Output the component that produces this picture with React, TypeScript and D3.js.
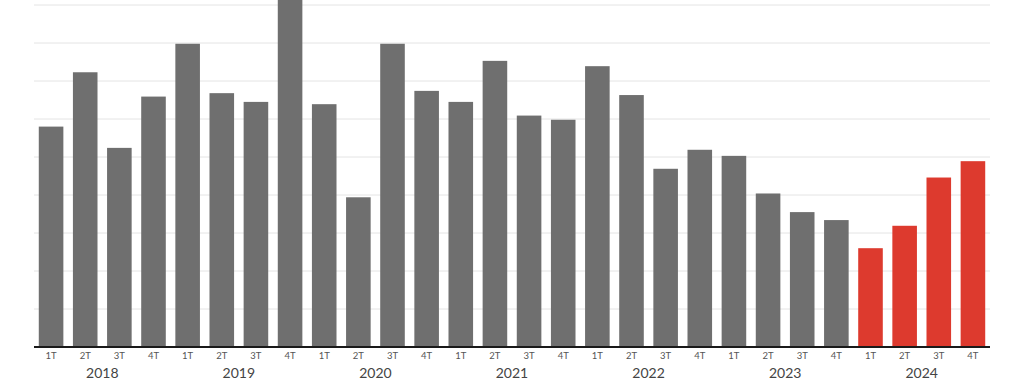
import React from "react";
import * as d3 from "d3";

const years = ["2018", "2019", "2020", "2021", "2022", "2023", "2024"];
const quarters = ["1T", "2T", "3T", "4T"];
const values2018 = [58.0, 72.3, 52.4, 65.9];
const values2019 = [79.8, 66.8, 64.5, 93.0];
const values2020 = [63.9, 39.4, 79.8, 67.4];
const values2021 = [64.5, 75.3, 60.9, 59.8];
const values2022 = [73.9, 66.3, 46.9, 51.9];
const values2023 = [50.3, 40.4, 35.5, 33.4];
const values2024 = [26.0, 31.9, 44.6, 48.9];
const yTicks = [10, 20, 30, 40, 50, 60, 70, 80, 90];
const highlightYear = "2024";

const allValues = [values2018, values2019, values2020, values2021, values2022, values2023, values2024];

type Row = { key: string; year: string; q: string; value: number };
const rows: Row[] = [];
years.forEach((y, i) => {
  quarters.forEach((q, j) => {
    rows.push({ key: `${y}-${q}`, year: y, q, value: allValues[i][j] });
  });
});

const W = 1024;
const H = 384;
const left = 34;
const right = 990;
const baseY = 347;
const topY = 5;

export default function App() {
  const x = d3
    .scaleBand<string>()
    .domain(rows.map((r) => r.key))
    .range([left, right])
    .paddingInner(0.28)
    .paddingOuter(0.14);
  const y = d3.scaleLinear().domain([0, 90]).range([baseY, topY]);

  return (
    <svg
      width={W}
      height={H}
      style={{ position: "absolute", left: 0, top: 0, display: "block", background: "#fff" }}
    >
      <g>
        {yTicks.map((t) => (
          <line
            key={t}
            x1={left}
            x2={right}
            y1={y(t)}
            y2={y(t)}
            stroke="#e4e4e4"
            strokeWidth={1}
          />
        ))}
      </g>
      <g>
        {rows.map((r) => (
          <rect
            key={r.key}
            x={x(r.key)}
            y={y(r.value)}
            width={x.bandwidth()}
            height={baseY - y(r.value)}
            fill={r.year === highlightYear ? "#dd3a2e" : "#6f6f6f"}
          />
        ))}
      </g>
      <line x1={left} x2={right} y1={baseY} y2={baseY} stroke="#1a1a1a" strokeWidth={2.2} />
      <g fontFamily="Lato, 'Open Sans', sans-serif">
        {rows.map((r) => (
          <text
            key={r.key}
            x={(x(r.key) as number) + x.bandwidth() / 2}
            y={359}
            textAnchor="middle"
            fontSize={9.5}
            fill="#555"
          >
            {r.q}
          </text>
        ))}
        {years.map((yr) => {
          const a = x(`${yr}-2T`) as number;
          const b = x(`${yr}-3T`) as number;
          const cx = (a + b) / 2 + x.bandwidth() / 2;
          return (
            <text key={yr} x={cx} y={378} textAnchor="middle" fontSize={14} fill="#444">
              {yr}
            </text>
          );
        })}
      </g>
    </svg>
  );
}
